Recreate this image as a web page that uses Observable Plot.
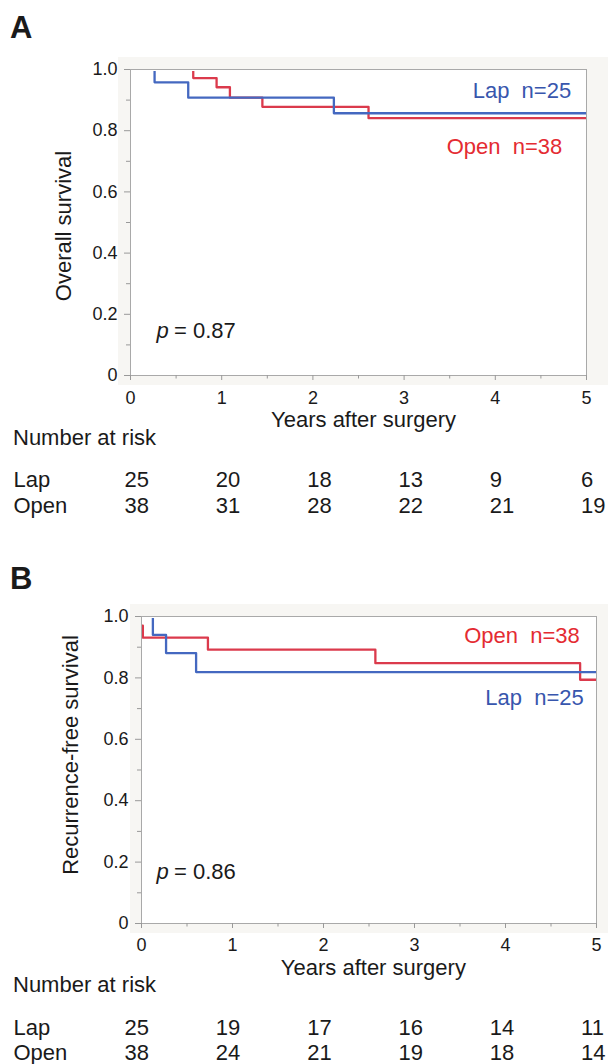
<!DOCTYPE html>
<html><head><meta charset="utf-8">
<script src="https://cdn.jsdelivr.net/npm/d3@7"></script>
<script src="https://cdn.jsdelivr.net/npm/@observablehq/plot@0.6"></script>
<style>
body{margin:0;background:#fff;font-family:"Liberation Sans",Arial,sans-serif;color:#1a1a1a;}
#page{position:relative;width:608px;height:1064px;overflow:hidden;}
.abs{position:absolute;white-space:pre;line-height:1;}
.bg{position:absolute;background:#f7f6f3;}
.lay{position:absolute;left:0;}
</style></head><body><div id="page"></div>
<script>
// ---- data ----
const years = [0, 1, 2, 3, 4, 5];
const groups = ["Lap", "Open"];
const yTicks = [0, 0.2, 0.4, 0.6, 0.8, 1.0];
const yMinor = [0.1, 0.3, 0.5, 0.7, 0.9];
const xMinor = [0.5, 1.5, 2.5, 3.5, 4.5];

// Panel A: overall survival
const osLapTime  = [0, 0.264, 0.633, 2.23, 5];
const osLapSurv  = [1, 0.958, 0.908, 0.857, 0.857];
const osOpenTime = [0, 0.688, 0.944, 1.09, 1.446, 2.61, 5];
const osOpenSurv = [1, 0.972, 0.942, 0.908, 0.878, 0.841, 0.841];
const osRiskLap  = [25, 20, 18, 13, 9, 6];
const osRiskOpen = [38, 31, 28, 22, 21, 19];
const osP = "0.87";

// Panel B: recurrence-free survival
const rfsLapTime  = [0, 0.125, 0.27, 0.60, 5];
const rfsLapSurv  = [1, 0.94, 0.881, 0.819, 0.819];
const rfsOpenTime = [0, 0.015, 0.73, 2.57, 4.82, 5];
const rfsOpenSurv = [0.97, 0.931, 0.892, 0.848, 0.794, 0.794];
const rfsRiskLap  = [25, 19, 17, 16, 14, 11];
const rfsRiskOpen = [38, 24, 21, 19, 18, 14];
const rfsP = "0.86";

const nLap = 25, nOpen = 38;

// ---- styles ----
const FONT = '"Liberation Sans", Arial, sans-serif';
const lineColor = {Lap: "#4468c0", Open: "#db3a4c"};
const textColor = {Lap: "#3856ad", Open: "#e42b32"};
const page = document.getElementById("page");

function rows(times, surv, g) { return times.map((t, i) => ({t, s: surv[i], g})); }

function addHTML(cls, text, css) {
  const d = document.createElement("div");
  d.className = cls;
  d.innerHTML = text;
  Object.assign(d.style, css);
  page.appendChild(d);
  return d;
}

function kmPanel(o) {
  const lap = rows(o.lapT, o.lapS, "Lap");
  const open = rows(o.openT, o.openS, "Open");
  const svg = Plot.plot({
    width: 608, height: o.height,
    marginLeft: o.mL, marginRight: o.mR, marginTop: o.mT, marginBottom: o.mB,
    style: {fontFamily: FONT, fontSize: "18px", color: "#1a1a1a", background: "transparent", overflow: "visible"},
    x: {domain: [0, 5], label: null},
    y: {domain: [0, 1], label: null},
    color: {domain: groups, range: [lineColor.Lap, lineColor.Open]},
    marks: [
      Plot.frame({fill: "white", stroke: null}),
      Plot.line(open, {x: "t", y: "s", stroke: "g", curve: "step-after", strokeWidth: 2.3, clip: true}),
      Plot.line(lap, {x: "t", y: "s", stroke: "g", curve: "step-after", strokeWidth: 2.3, clip: true}),
      // the curves' starting level sits under the top border, as in the reference
      Plot.ruleY([1], {stroke: "white", strokeWidth: 2.8, clip: true}),
      Plot.frame({stroke: "#a9a9a9", strokeWidth: 1}),
      Plot.axisY(yTicks, {tickSize: 6, tickPadding: 7, stroke: "#999", label: null,
        tickFormat: d => d === 0 ? "0" : d.toFixed(1)}),
      Plot.axisY(yMinor, {tickSize: 4, stroke: "#999", label: null, tickFormat: () => ""}),
      Plot.axisX(years, {tickSize: 5, tickPadding: o.xPad, stroke: "#999", label: null, tickFormat: d => String(d)}),
      Plot.axisX(xMinor, {tickSize: 3.5, stroke: "#999", label: null, tickFormat: () => ""}),
      Plot.text(["Lap \u00a0n=" + nLap], {x: [o.lapLab[0]], y: [o.lapLab[1]], textAnchor: "end",
        fill: textColor.Lap, fontSize: 22}),
      Plot.text(["Open \u00a0n=" + nOpen], {x: [o.openLab[0]], y: [o.openLab[1]], textAnchor: "end",
        fill: textColor.Open, fontSize: 22}),
      Plot.text(["p"], {x: [o.pPos[0]], y: [o.pPos[1]], textAnchor: "start", fontStyle: "italic", fontSize: 22}),
      Plot.text(["= " + o.p], {x: [o.pPos[0]], y: [o.pPos[1]], textAnchor: "start", dx: 17.5, fontSize: 22})
    ]
  });
  const wrap = document.createElement("div");
  wrap.className = "lay";
  wrap.style.top = o.top + "px";
  wrap.appendChild(svg);
  page.appendChild(wrap);
}

function riskTable(o) {
  const data = [];
  years.forEach((t, i) => {
    data.push({t, g: "Lap", n: o.lap[i]});
    data.push({t, g: "Open", n: o.open[i]});
  });
  const svg = Plot.plot({
    width: 608, height: o.height,
    marginLeft: 124, marginRight: 27.4, marginTop: 0, marginBottom: 0,
    style: {fontFamily: FONT, fontSize: "22px", color: "#1a1a1a", background: "transparent", overflow: "visible"},
    x: {domain: [0, 5], axis: null},
    y: {type: "point", domain: groups, range: o.rowY, padding: 0, axis: null},
    marks: [
      Plot.text(data, {x: "t", y: "g", text: d => String(d.n), textAnchor: "start", fontSize: 22}),
      Plot.text(groups, {y: d => d, frameAnchor: "left", textAnchor: "start", dx: 13 - 124, fontSize: 22})
    ]
  });
  const wrap = document.createElement("div");
  wrap.className = "lay";
  wrap.style.top = o.top + "px";
  wrap.appendChild(svg);
  page.appendChild(wrap);
}

// backgrounds
addHTML("bg", "", {left: "118px", top: "57px", width: "490px", height: "328px"});
addHTML("bg", "", {left: "130px", top: "604px", width: "478px", height: "329px"});

// Panel A
kmPanel({top: 50, height: 360, mL: 130, mR: 22, mT: 19, mB: 35, xPad: 11,
  lapT: osLapTime, lapS: osLapSurv, openT: osOpenTime, openS: osOpenSurv,
  lapLab: [4.832, 0.931], openLab: [4.734, 0.748], pPos: [0.285, 0.146], p: osP});
riskTable({top: 460, height: 60, rowY: [19, 45.3], lap: osRiskLap, open: osRiskOpen});

// Panel B
kmPanel({top: 600, height: 360, mL: 141, mR: 12, mT: 16, mB: 37, xPad: 9.5,
  lapT: rfsLapTime, lapS: rfsLapSurv, openT: rfsOpenTime, openS: rfsOpenSurv,
  lapLab: [4.86, 0.734], openLab: [4.816, 0.937], pPos: [0.165, 0.167], p: rfsP});
riskTable({top: 1005, height: 59, rowY: [21.3, 47.3], lap: rfsRiskLap, open: rfsRiskOpen});

// HTML text: panel letters, axis titles, table headers
addHTML("abs", "A", {left: "10px", top: "11.8px", fontSize: "31px", fontWeight: "bold"});
addHTML("abs", "B", {left: "10px", top: "562.8px", fontSize: "31px", fontWeight: "bold"});
addHTML("abs", "Years after surgery", {left: "363.6px", top: "409.1px", fontSize: "22px", transform: "translateX(-50%)"});
addHTML("abs", "Years after surgery", {left: "373.4px", top: "957px", fontSize: "22px", transform: "translateX(-50%)"});
addHTML("abs", "Number at risk", {left: "13px", top: "427.1px", fontSize: "22px"});
addHTML("abs", "Number at risk", {left: "13px", top: "973.6px", fontSize: "22px"});
addHTML("abs", "Overall survival", {left: "64.4px", top: "226.3px", fontSize: "22px",
  transform: "translate(-50%,-50%) rotate(-90deg)"});
addHTML("abs", "Recurrence-free survival", {left: "70.7px", top: "755px", fontSize: "22px",
  transform: "translate(-50%,-50%) rotate(-90deg)"});
</script></body></html>
